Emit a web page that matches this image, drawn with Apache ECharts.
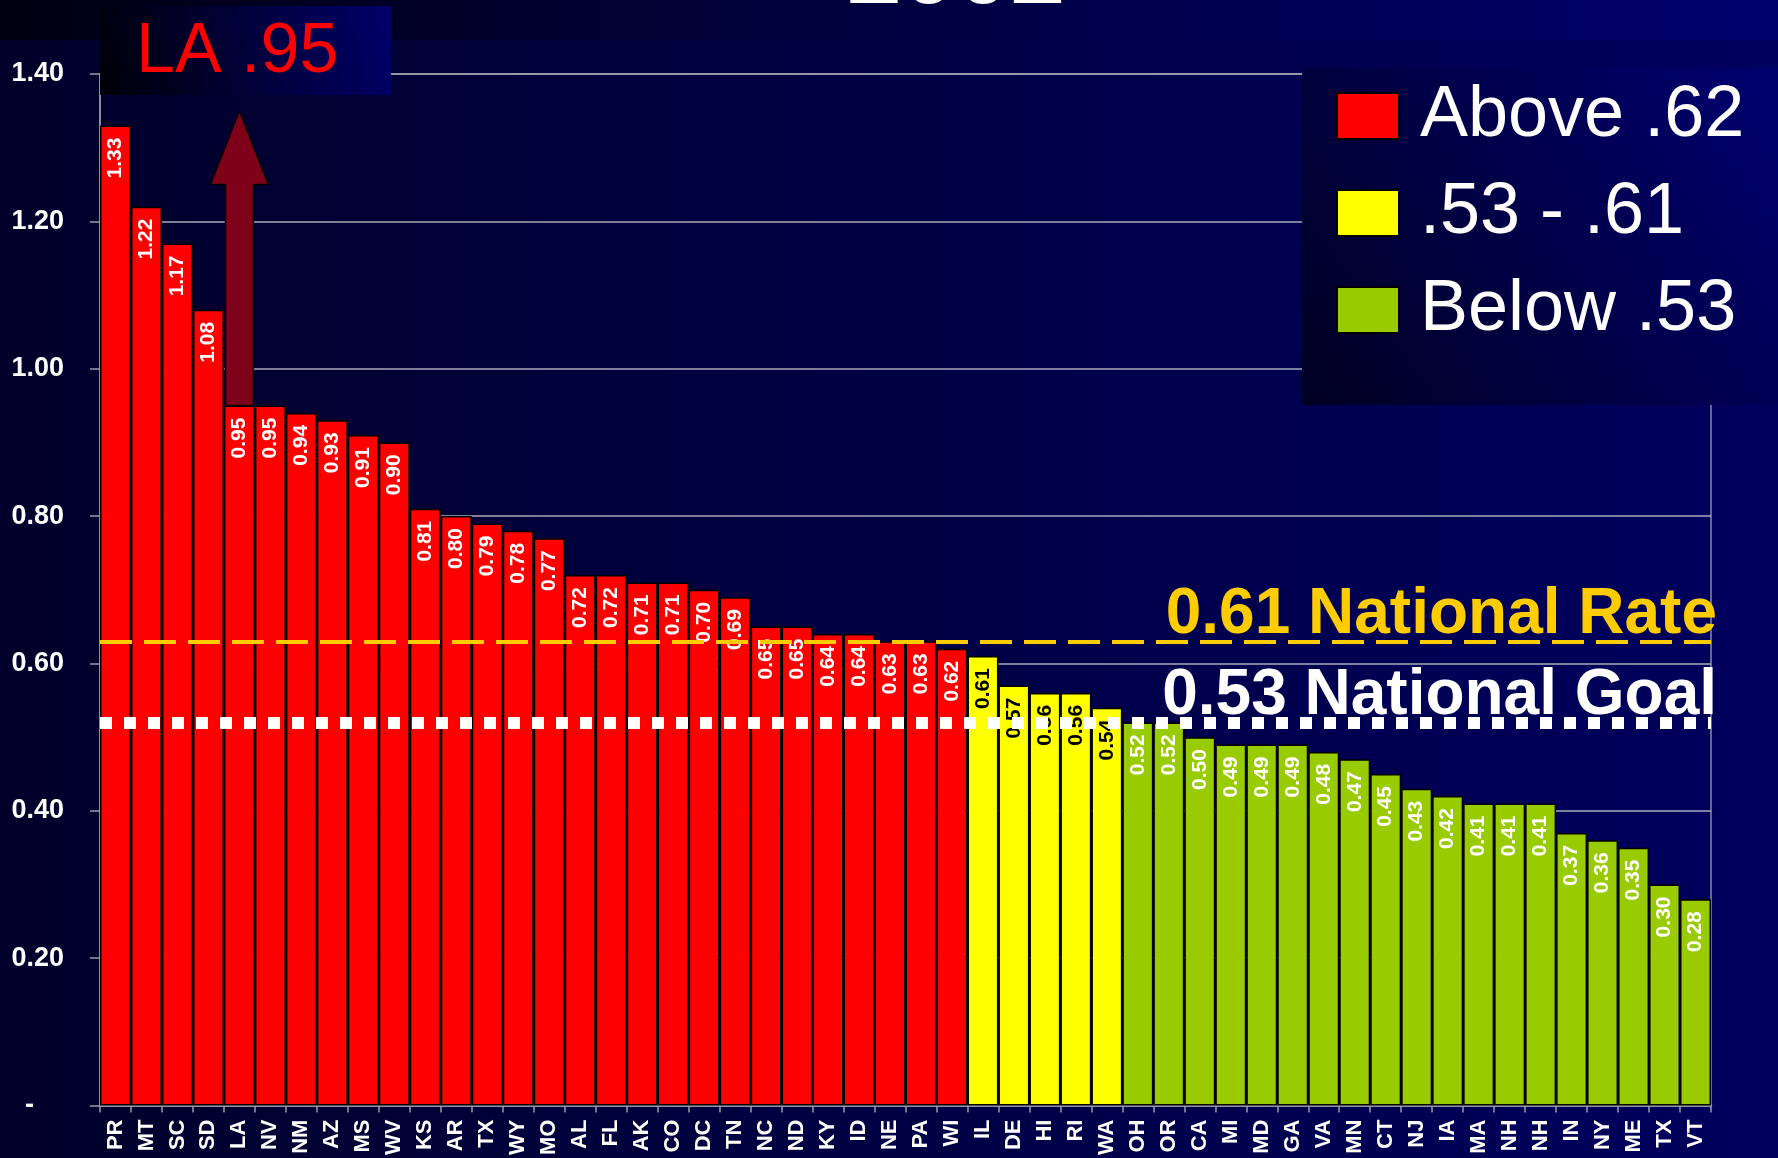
<!DOCTYPE html>
<html>
<head>
<meta charset="utf-8">
<script src="https://cdn.jsdelivr.net/npm/echarts@6/dist/echarts.min.js"></script>
<style>
  html, body { margin: 0; padding: 0; background: #000030; }
  #panel { width: 1778px; height: 1158px; }
</style>
</head>
<body>
<div id="panel"></div>
<script>
// states in chart order, left to right
var states = ['PR','MT','SC','SD','LA','NV','NM','AZ','MS','WV','KS','AR','TX','WY','MO','AL','FL','AK','CO','DC',
    'TN','NC','ND','KY','ID','NE','PA','WI','IL','DE','HI','RI','WA','OH','OR','CA','MI','MD','GA','VA',
    'MN','CT','NJ','IA','MA','NH','NH','IN','NY','ME','TX','VT'];
var rates = [1.33,1.22,1.17,1.08,0.95,0.95,0.94,0.93,0.91,0.90,0.81,0.80,0.79,0.78,0.77,0.72,0.72,0.71,0.71,0.70,
    0.69,0.65,0.65,0.64,0.64,0.63,0.63,0.62,0.61,0.57,0.56,0.56,0.54,0.52,0.52,0.50,0.49,0.49,0.49,0.48,
    0.47,0.45,0.43,0.42,0.41,0.41,0.41,0.37,0.36,0.35,0.30,0.28];
var groupNames = ['Above .62', '.53 - .61', 'Below .53'];
var groupColors = ['#ff0000', '#ffff00', '#99cc00'];
var groupLabelColors = ['#ffffff', '#000000', '#ffffff'];
// reference lines as drawn (value, label)
var refValues = [0.63, 0.52];
var refLabels = ['0.61 National Rate', '0.53 National Goal'];
// arrow over LA: category index, base, head base, tip
var arrowLA = [[4, 0.95, 1.25, 1.35]];

var FONT = "'Liberation Sans', Arial, sans-serif";

function groupOf(v) {
    if (v >= 0.615) return 0;
    if (v >= 0.525) return 1;
    return 2;
}

function groupData(g) {
    return rates.map(function (v) { return groupOf(v) === g ? v : '-'; });
}

var series = groupNames.map(function (name, g) {
    var s = {
        name: name,
        type: 'bar',
        data: groupData(g),
        barGap: '-100%',
        barCategoryGap: '0%',
        itemStyle: { color: groupColors[g], borderColor: '#000', borderWidth: 1.5 },
        label: {
            show: true,
            position: 'insideTop',
            rotate: 90,
            align: 'right',
            verticalAlign: 'middle',
            distance: 12,
            color: groupLabelColors[g],
            fontSize: 21,
            fontWeight: 'bold',
            fontFamily: FONT,
            formatter: function (p) { return p.value.toFixed(2); }
        }
    };
    if (g === 0) {
        s.markLine = {
            silent: true,
            symbol: 'none',
            z: 6,
            data: [
                {
                    yAxis: refValues[0],
                    lineStyle: { color: '#ffcc00', width: 4, type: [32, 12] },
                    label: { formatter: refLabels[0], color: '#ffcc00' }
                },
                {
                    yAxis: refValues[1],
                    lineStyle: { color: '#ffffff', width: 12, type: [12, 12], cap: 'butt' },
                    label: { formatter: refLabels[1], color: '#ffffff' }
                }
            ],
            label: {
                show: true,
                position: 'insideEndTop',
                distance: -6,
                fontSize: 64,
                fontWeight: 'bold',
                fontFamily: FONT
            }
        };
    }
    return s;
});

series.push({
    type: 'custom',
    z: 4,
    silent: true,
    data: arrowLA,
    renderItem: function (params, api) {
        var base = api.coord([api.value(0), api.value(1)]);
        var neck = api.coord([api.value(0), api.value(2)]);
        var tip = api.coord([api.value(0), api.value(3)]);
        var band = api.size([1, 0])[0];
        var sw = band * 0.9 / 2, hw = band * 1.87 / 2, cx = base[0];
        return {
            type: 'polygon',
            shape: {
                points: [
                    [cx - sw, base[1]], [cx - sw, neck[1]], [cx - hw, neck[1]], [cx, tip[1]],
                    [cx + hw, neck[1]], [cx + sw, neck[1]], [cx + sw, base[1]]
                ]
            },
            style: { fill: '#7f0019', stroke: '#000', lineWidth: 1.5 }
        };
    }
});

var myChart = echarts.init(document.getElementById('panel'));
myChart.setOption({
    backgroundColor: new echarts.graphic.LinearGradient(0, 0, 1, 0, [
        { offset: 0, color: '#00002a' },
        { offset: 1, color: '#00005e' }
    ]),
    animation: false,
    textStyle: { fontFamily: FONT },
    grid: {
        left: 100, right: 67, top: 74, bottom: 49,
        show: true, borderColor: '#8a8aa0', borderWidth: 1.5
    },
    legend: {
        data: groupNames,
        orient: 'vertical',
        left: 1336,
        top: 80,
        padding: 0,
        itemWidth: 62,
        itemHeight: 46,
        itemGap: 25,
        selectedMode: false,
        z: 60,
        icon: 'rect',
        textStyle: { color: '#fff', fontSize: 72, fontFamily: FONT, padding: [0, 0, 0, 16] }
    },
    xAxis: {
        type: 'category',
        data: states,
        axisLine: { lineStyle: { color: '#9a9aa8', width: 2.5 } },
        axisTick: { show: true, length: 7, lineStyle: { color: '#9a9aa8', width: 1.5 } },
        axisLabel: {
            interval: 0, rotate: 90, margin: 14,
            color: '#fff', fontSize: 22, fontWeight: 'bold', fontFamily: FONT
        }
    },
    yAxis: {
        type: 'value',
        min: 0, max: 1.4, interval: 0.2,
        axisLine: { show: true, lineStyle: { color: '#9a9aa8', width: 1.5 } },
        axisTick: { show: true, length: 10, lineStyle: { color: '#9a9aa8', width: 1.5 } },
        splitLine: { lineStyle: { color: '#a8a8b8', width: 1.5 } },
        axisLabel: {
            margin: 36, color: '#fff', fontSize: 27, fontWeight: 'bold', fontFamily: FONT,
            formatter: function (v) { return v === 0 ? '-    ' : v.toFixed(2); }
        }
    },
    graphic: [
        {
            type: 'rect', z: 50, silent: true,
            shape: { x: 0, y: 0, width: 1778, height: 40 },
            style: { fill: new echarts.graphic.LinearGradient(0, 0, 1, 0, [
                { offset: 0, color: '#000012' }, { offset: 1, color: '#00006e' }]) }
        },
        {
            type: 'text', z: 51, silent: true, x: 956, y: -24,
            style: {
                text: '2002', fill: '#fff', font: 'bold 98px ' + FONT,
                align: 'center', verticalAlign: 'middle',
                shadowColor: '#000', shadowOffsetX: 4, shadowOffsetY: 4, shadowBlur: 0
            }
        },
        {
            type: 'rect', z: 50, silent: true,
            shape: { x: 100, y: 6, width: 291, height: 89 },
            style: { fill: new echarts.graphic.LinearGradient(0, 1, 1, 0, [
                { offset: 0, color: '#000008' }, { offset: 1, color: '#00006a' }]) }
        },
        {
            type: 'text', z: 51, silent: true, x: 136, y: 53,
            style: { text: 'LA .95', fill: '#ff0000', font: '70px ' + FONT, verticalAlign: 'middle' }
        },
        {
            type: 'rect', z: 50, silent: true,
            shape: { x: 1302, y: 68, width: 476, height: 337 },
            style: { fill: new echarts.graphic.LinearGradient(0, 1, 1, 0, [
                { offset: 0, color: '#000022' }, { offset: 1, color: '#000070' }]) }
        }
    ],
    series: series
});
</script>
</body>
</html>
